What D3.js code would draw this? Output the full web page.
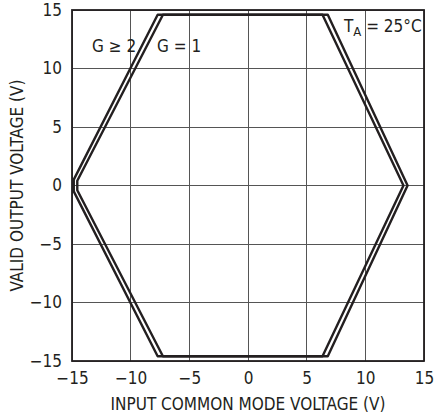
<!DOCTYPE html>
<html>
<head>
<meta charset="utf-8">
<script src="https://cdn.jsdelivr.net/npm/d3@7"></script>
<style>
  html, body { margin: 0; padding: 0; background: #fff; }
  svg text { font-family: "Liberation Sans Narrow", "DejaVu Sans Condensed", "Roboto Condensed", Arial, sans-serif; fill: #231f20; }
</style>
</head>
<body>
<svg id="chart" width="434" height="419"></svg>
<script>
// Axis ticks
const xTicks = [-15, -10, -5, 0, 5, 10, 15];
const yTicks = [-15, -10, -5, 0, 5, 10, 15];

// Valid output range boundary for G ≥ 2 (outer) and G = 1 (inner)
const gainTwoCM  = [-7.7, 6.8, 13.6, 6.8, -7.7, -14.85, -14.85];
const gainTwoOut = [14.6, 14.6, 0, -14.6, -14.6, -0.5, 0.5];
const gainOneCM  = [-7.25, 6.35, 13.25, 6.35, -7.25, -14.55, -14.55];
const gainOneOut = [14.6, 14.6, 0, -14.6, -14.6, -0.4, 0.4];

const svg = d3.select("#chart");
const x = d3.scaleLinear().domain([-15, 15]).range([72, 424]);
const y = d3.scaleLinear().domain([-15, 15]).range([361, 10]);
const ink = "#231f20";

// Grid
const grid = svg.append("g");
grid.selectAll("line.v").data(xTicks).join("line")
  .attr("x1", d => x(d)).attr("x2", d => x(d))
  .attr("y1", y(-15)).attr("y2", y(15))
  .attr("stroke", "#555").attr("stroke-width", 1).attr("shape-rendering", "crispEdges");
grid.selectAll("line.h").data(yTicks).join("line")
  .attr("y1", d => y(d)).attr("y2", d => y(d))
  .attr("x1", x(-15)).attr("x2", x(15))
  .attr("stroke", "#555").attr("stroke-width", 1).attr("shape-rendering", "crispEdges");

// Frame
svg.append("rect")
  .attr("x", x(-15)).attr("y", y(15))
  .attr("width", x(15) - x(-15)).attr("height", y(-15) - y(15))
  .attr("fill", "none").attr("stroke", ink).attr("stroke-width", 1.8);

// Axes (labels only)
const fmt = d => d < 0 ? "\u2212" + Math.abs(d) : String(d);
const xAxis = svg.append("g").attr("transform", `translate(0,${y(-15)})`)
  .call(d3.axisBottom(x).tickValues(xTicks).tickSize(0).tickPadding(11).tickFormat(fmt));
const yAxis = svg.append("g").attr("transform", `translate(${x(-15)},0)`)
  .call(d3.axisLeft(y).tickValues(yTicks).tickSize(0).tickPadding(10).tickFormat(fmt));
[xAxis, yAxis].forEach(a => {
  a.select(".domain").remove();
  a.selectAll("text").attr("font-size", 17).style("font-family", null).attr("fill", ink);
});

// Boundary curves
const line = d3.line().x(d => x(d[0])).y(d => y(d[1])).curve(d3.curveLinearClosed);
const curves = [
  d3.zip(gainTwoCM, gainTwoOut),
  d3.zip(gainOneCM, gainOneOut)
];
svg.append("g").selectAll("path").data(curves).join("path")
  .attr("d", line)
  .attr("fill", "none").attr("stroke", ink).attr("stroke-width", 2.4)
  .attr("stroke-linejoin", "round");

// Annotations
svg.append("text").attr("x", 92).attr("y", 52).attr("font-size", 17).text("G \u2265 2");
svg.append("text").attr("x", 157).attr("y", 52).attr("font-size", 17).text("G = 1");
const ta = svg.append("text").attr("x", 344).attr("y", 32).attr("font-size", 17);
ta.append("tspan").text("T");
ta.append("tspan").attr("font-size", 13).attr("dy", 4).text("A");
ta.append("tspan").attr("dy", -4).text(" = 25\u00b0C");

// Axis titles
svg.append("text").attr("x", (x(-15) + x(15)) / 2).attr("y", 410)
  .attr("text-anchor", "middle").attr("font-size", 17)
  .text("INPUT COMMON MODE VOLTAGE (V)");
svg.append("text")
  .attr("transform", `translate(23,${(y(-15) + y(15)) / 2}) rotate(-90)`)
  .attr("text-anchor", "middle").attr("font-size", 17)
  .text("VALID OUTPUT VOLTAGE (V)");
</script>
</body>
</html>
